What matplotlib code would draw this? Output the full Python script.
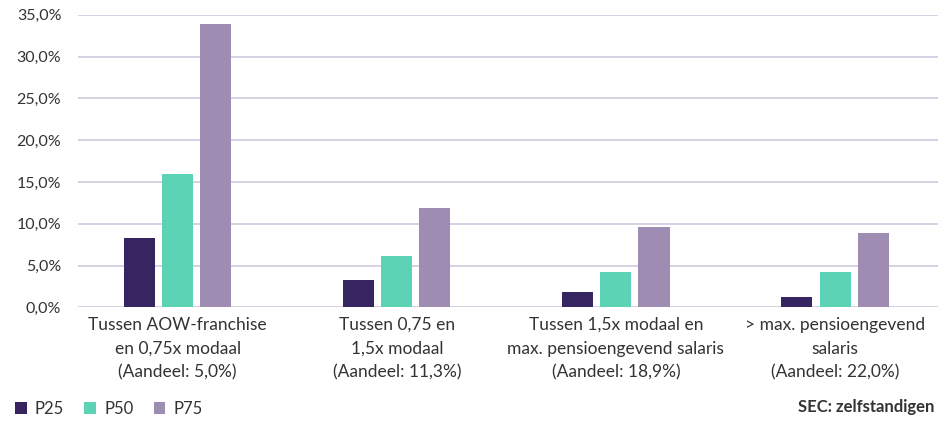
import matplotlib.pyplot as plt
import numpy as np
from matplotlib.ticker import FuncFormatter

categories = ['Tussen AOW-franchise\nen 0,75x modaal\n(Aandeel: 5,0%)',
              'Tussen 0,75 en\n1,5x modaal\n(Aandeel: 11,3%)',
              'Tussen 1,5x modaal en\nmax. pensioengevend salaris\n(Aandeel: 18,9%)',
              '> max. pensioengevend\nsalaris\n(Aandeel: 22,0%)']
p25 = [8.3, 3.3, 1.8, 1.2]
p50 = [16.0, 6.1, 4.2, 4.2]
p75 = [33.9, 11.9, 9.6, 8.9]
series = ['P25', 'P50', 'P75']
colors = ['#372561', '#5dd3b6', '#9f8cb2']

plt.rcParams['font.family'] = ['Lato', 'DejaVu Sans']
txt = '#333333'

fig = plt.figure(figsize=(9.39, 4.21), dpi=100)
ax = fig.add_axes([0.083, 0.27, 0.916, 0.695])

x = np.arange(len(categories))
w = 0.142
off = 0.174
for i, (vals, name) in enumerate(zip([p25, p50, p75], series)):
    ax.bar(x + (i - 1) * off, vals, w, color=colors[i], label=name, zorder=3)

ax.set_ylim(0, 35)
ax.set_xlim(-0.455, 3.47)
ax.set_yticks(np.arange(0, 36, 5))
ax.yaxis.set_major_formatter(FuncFormatter(lambda v, p: ('%.1f%%' % v).replace('.', ',')))
ax.grid(axis='y', color='#cfc8de', linewidth=1.2, zorder=0)
for s in ax.spines.values():
    s.set_visible(False)
ax.tick_params(axis='y', length=0, labelsize=11.5, labelcolor=txt, pad=12)
ax.set_xticks(x)
ax.set_xticklabels(categories, fontsize=12.5, color=txt, linespacing=1.6)
ax.tick_params(axis='x', length=0, pad=7)

fig.legend(loc='lower left', bbox_to_anchor=(0.0, -0.025), ncol=3, frameon=False,
           fontsize=12, handlelength=0.7, handleheight=0.7, handletextpad=0.5,
           columnspacing=1.2, labelcolor=txt)
fig.text(0.995, 0.015, 'SEC: zelfstandigen', ha='right', va='bottom',
         fontsize=12, fontweight='bold', color=txt)

fig.savefig('out.png', dpi=100)
